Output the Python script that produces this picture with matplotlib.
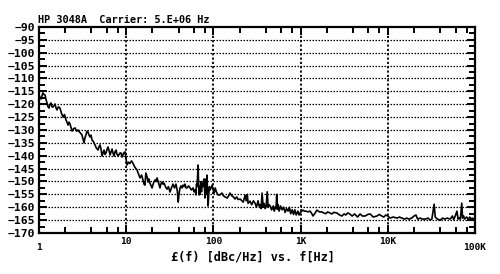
import matplotlib
matplotlib.use('Agg')
import matplotlib.pyplot as plt

# Phase noise trace (Hz, dBc/Hz)
freq_1_10 = [1.0, 1.03, 1.054, 1.08, 1.111, 1.14, 1.172, 1.2, 1.235, 1.27,
             1.302, 1.34, 1.373, 1.41, 1.447, 1.49, 1.526, 1.57, 1.609, 1.67,
             1.741, 1.81, 1.885, 1.96, 2.04, 2.1, 2.15, 2.21, 2.27, 2.33,
             2.39, 2.49, 2.59, 2.7, 2.8, 2.95, 3.11, 3.2, 3.28, 3.37,
             3.46, 3.55, 3.65, 3.75, 3.85, 3.95, 4.06, 4.2, 4.39, 4.55,
             4.75, 4.88, 5.01, 5.15, 5.28, 5.42, 5.57, 5.72, 5.87, 6.03,
             6.19, 6.36, 6.53, 6.7, 6.88, 7.07, 7.26, 7.45, 7.65, 7.86,
             8.07, 8.29, 8.51, 8.74, 8.97, 9.34, 9.71]
dbc_1_10 = [-116.4, -117.5, -118.0, -116.8, -115.6, -116.2, -116.4, -118.0, -119.5, -121.0,
            -121.5, -120.0, -119.5, -121.0, -121.1, -120.5, -119.9, -121.5, -122.2, -121.0,
            -121.5, -123.5, -125.0, -124.0, -126.1, -127.0, -128.1, -127.0, -127.7, -129.0,
            -130.4, -129.5, -129.2, -130.5, -130.0, -131.0, -131.9, -133.5, -135.0, -133.0,
            -131.9, -130.5, -130.8, -132.0, -132.7, -132.0, -133.9, -134.5, -135.8, -137.0,
            -137.8, -136.5, -135.8, -137.5, -140.1, -139.0, -137.8, -139.5, -138.9, -137.5,
            -136.6, -138.0, -139.7, -138.5, -137.4, -139.0, -140.1, -138.5, -137.8, -139.5,
            -140.1, -139.5, -138.9, -139.0, -140.5, -139.0, -138.5]

freq_10_100 = [10.2, 10.6, 11.0, 11.5, 11.9, 12.6, 13.3, 13.8, 14.4, 15.0,
               15.6, 16.0, 16.4, 16.8, 17.3, 17.8, 18.2, 18.7, 19.2, 19.8,
               20.6, 21.4, 22.0, 22.6, 23.5, 24.4, 25.0, 25.7, 26.4, 27.1,
               28.2, 29.4, 30.5, 31.8, 33.0, 34.4, 35.8, 37.2, 38.5, 39.5,
               40.3, 41.4, 42.5, 43.6, 44.8, 46.0, 47.3, 48.6, 49.9, 52.0,
               54.0, 56.0, 58.5, 60.0, 61.7, 63.0, 64.0, 65.0, 66.0, 66.8,
               67.5, 68.6, 69.5, 70.2, 72.0, 73.0, 74.0, 75.9, 78.0, 80.2,
               81.3, 82.4, 83.5, 84.4, 85.5, 86.8, 88.5, 90.0, 91.4, 94.0,
               96.5, 99.0]
dbc_10_100 = [-143.6, -142.5, -143.0, -142.0, -142.8, -144.5, -145.5, -147.0, -148.6, -147.5,
              -149.5, -151.0, -151.4, -146.7, -148.0, -150.2, -149.0, -150.6, -151.5, -152.5,
              -150.5, -149.4, -150.0, -148.6, -150.5, -152.5, -151.0, -150.2, -151.0, -150.6,
              -152.0, -153.0, -152.0, -154.1, -152.5, -151.0, -152.5, -151.0, -153.5, -158.0,
              -155.0, -152.5, -151.7, -152.5, -151.4, -152.0, -151.0, -152.5, -152.5, -151.7,
              -152.5, -153.3, -152.5, -154.0, -153.3, -155.2, -151.0, -152.0, -147.0, -143.6,
              -150.0, -155.2, -152.0, -155.0, -150.0, -154.0, -150.6, -152.0, -149.0, -156.4,
              -152.0, -149.0, -155.0, -147.5, -153.0, -159.5, -155.0, -152.0, -153.3, -152.5,
              -151.4, -153.0]

freq_100_1k = [101.8, 105, 108, 113, 119, 125, 130, 136, 144, 150,
               155, 162, 170, 177, 185, 192, 203, 212, 220, 231,
               238, 245, 250, 263, 275, 288, 300, 312, 325, 335,
               343, 352, 362, 372, 381, 392, 402, 414, 424, 435,
               447, 465, 486, 500, 510, 524, 532, 539, 553, 567,
               590, 614, 640, 664, 690, 718, 745, 770, 800, 830,
               858, 890, 931, 960, 982]
dbc_100_1k = [-154.5, -152.5, -154.0, -155.2, -155.2, -154.5, -155.5, -156.0, -156.4, -155.5,
              -154.5, -155.5, -156.0, -156.8, -156.0, -157.0, -156.8, -157.5, -158.0, -155.3,
              -157.5, -155.0, -158.5, -157.6, -159.0, -157.5, -158.4, -160.0, -157.5, -159.5,
              -159.1, -160.5, -154.5, -160.0, -158.5, -160.5, -159.9, -154.0, -160.0, -159.0,
              -159.5, -161.0, -159.5, -161.5, -160.0, -160.3, -155.0, -160.8, -159.0, -161.5,
              -159.5, -161.0, -160.0, -162.0, -160.5, -161.5, -160.0, -162.5, -161.0, -162.8,
              -161.0, -163.0, -161.5, -163.0, -162.3]

freq_1k_10k = [1030, 1064, 1100, 1150, 1210, 1283, 1330, 1387, 1450, 1540,
               1640, 1745, 1840, 1940, 2050, 2160, 2280, 2400, 2600, 2800,
               2970, 3150, 3300, 3480, 3660, 3900, 4170, 4500, 4820, 5100,
               5500, 5900, 6280, 6800, 7500, 8000, 8530, 9000, 9500, 10000]
dbc_1k_10k = [-161.5, -161.1, -161.5, -161.5, -161.8, -161.5, -162.2, -163.4, -162.5, -161.1,
              -161.8, -161.8, -162.2, -162.5, -161.8, -162.2, -162.6, -162.0, -162.2, -163.0,
              -163.4, -162.6, -163.0, -162.2, -162.6, -163.4, -162.6, -163.8, -162.6, -163.4,
              -163.4, -162.8, -162.6, -163.8, -163.4, -162.8, -163.4, -163.8, -163.0, -163.4]

freq_10k_100k = [10600, 11500, 12800, 13600, 14500, 15500, 16500, 17500, 18800, 20000,
                 21000, 22000, 23500, 25000, 27000, 29000, 30600, 32000, 33500, 34000,
                 35000, 37000, 40000, 42500, 45000, 48000, 52000, 55000, 57000, 60000,
                 62000, 64000, 66000, 68000, 69500, 70500, 72000, 74000, 76000, 80000,
                 84000, 87000, 90000, 93000, 97000, 100000]
dbc_10k_100k = [-164.2, -163.8, -164.2, -163.8, -164.2, -164.6, -164.2, -164.6, -164.2, -163.4,
                -163.0, -164.6, -164.2, -164.6, -164.6, -164.2, -165.0, -164.6, -160.0, -158.8,
                -163.8, -164.6, -165.0, -164.2, -164.6, -164.2, -164.6, -163.4, -164.8, -163.0,
                -161.5, -164.6, -164.2, -164.6, -161.0, -158.4, -164.2, -163.4, -164.6, -163.8,
                -164.6, -163.8, -164.6, -164.2, -164.6, -164.6]

xtick_pos = [1, 10, 100, 1000, 10000, 100000]
xtick_txt = ['1', '10', '100', '1K', '10K', '100K']

freq = freq_1_10 + freq_10_100 + freq_100_1k + freq_1k_10k + freq_10k_100k
dbc = dbc_1_10 + dbc_10_100 + dbc_100_1k + dbc_1k_10k + dbc_10k_100k

font = 'DejaVu Sans Mono'

fig = plt.figure(figsize=(5, 2.74), dpi=100)
ax = fig.add_axes([0.078, 0.1496, 0.872, 0.752])

ax.plot(freq, dbc, color='black', lw=1.2)

ax.set_xscale('log')
ax.set_xlim(1, 1e5)
ax.set_ylim(-170, -90)

# ticks
ax.set_xticks(xtick_pos, labels=xtick_txt)
minor = [m * 10 ** d for d in range(5) for m in (2, 4, 6, 8)]
ax.set_xticks(minor, minor=True)
ax.set_xticklabels([], minor=True)
ax.set_yticks(range(-170, -89, 5))
ax.set_yticks([v + 2.5 for v in range(-170, -90, 5)], minor=True)

ax.tick_params(which='both', direction='in', top=True, right=True, width=1.4)
ax.tick_params(which='major', length=6, pad=3, labelsize=8.2)
ax.tick_params(which='minor', length=4)
ax.tick_params(axis='x', which='major', labelsize=6.8, pad=3)
for lab in ax.get_xticklabels() + ax.get_yticklabels():
    lab.set_fontfamily(font)
    lab.set_fontweight('bold')

# 1 and 100K sit lower than the others
xt = ax.xaxis.get_major_ticks()
xt[0].set_pad(7)
xt[-1].set_pad(7)

# dotted grid
for v in range(-165, -90, 5):
    ax.axhline(v, color='black', lw=0.9, ls=(0, (1.2, 1.2)))
for f in xtick_pos[1:-1]:
    ax.axvline(f, color='black', lw=1.3, ls=(0, (1.2, 1.2)))

for s in ax.spines.values():
    s.set_linewidth(1.6)

ax.set_title('HP 3048A  Carrier: 5.E+06 Hz', loc='left', x=-0.003, pad=3,
             fontsize=7.4, fontweight='bold', family=font)
ax.set_xlabel('£(f) [dBc/Hz] vs. f[Hz]', fontsize=8.6, fontweight='bold',
              family=font, labelpad=1)
ax.xaxis.set_label_coords(0.49, -0.085)

fig.savefig('out.png', dpi=100)
